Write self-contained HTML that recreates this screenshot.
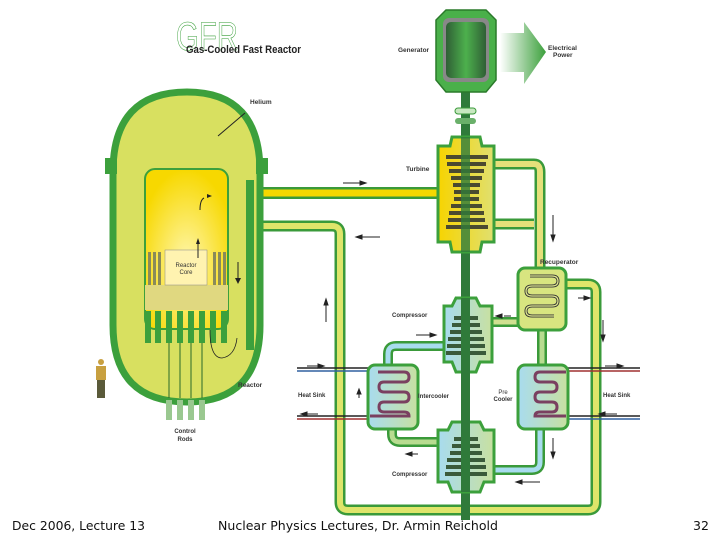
<!DOCTYPE html>
<html><head><meta charset="utf-8"><style>
html,body{margin:0;padding:0;background:#fff;}
svg{display:block;font-family:"Liberation Sans",sans-serif;}
</style></head><body>
<svg width="720" height="540" viewBox="0 0 720 540" xmlns="http://www.w3.org/2000/svg">
<defs>
<radialGradient id="core" cx="0.5" cy="0.6" r="0.6"><stop offset="0" stop-color="#fff7b0"/><stop offset="1" stop-color="#f7d800"/></radialGradient>
<linearGradient id="gen" x1="0" x2="1"><stop offset="0" stop-color="#2f5f35"/><stop offset="0.5" stop-color="#4db04d"/><stop offset="1" stop-color="#2f5f35"/></linearGradient>
<linearGradient id="arr" x1="0" x2="1"><stop offset="0" stop-color="#fff"/><stop offset="1" stop-color="#3ca03c"/></linearGradient>
<linearGradient id="blue" x1="0" x2="1"><stop offset="0" stop-color="#a8dcef"/><stop offset="1" stop-color="#c8e0a0"/></linearGradient>
<linearGradient id="turb" x1="0" x2="1"><stop offset="0" stop-color="#f7d400"/><stop offset="1" stop-color="#e0e070"/></linearGradient>
</defs>
<!-- title -->
<text x="176" y="50" font-size="40" fill="none" stroke="#3ca03c" stroke-width="0.6" textLength="62" lengthAdjust="spacingAndGlyphs">GFR</text>
<text x="186" y="53" font-size="11" font-weight="bold" fill="#222" textLength="115" lengthAdjust="spacingAndGlyphs">Gas-Cooled Fast Reactor</text>

<g fill="none" stroke-linejoin="round">
<path d="M258 226 H332 Q340 226 340 234 V502 Q340 510 348 510 H588 Q596 510 596 502 V292 Q596 284 588 284 H560" stroke="#3a9a3a" stroke-width="11"/>
<path d="M258 226 H332 Q340 226 340 234 V502 Q340 510 348 510 H588 Q596 510 596 502 V292 Q596 284 588 284 H560" stroke="#dfe56a" stroke-width="6"/>
<path d="M490 164 H534 Q540 164 540 172 V272 M490 224 H534" stroke="#3a9a3a" stroke-width="11"/>
<path d="M490 164 H534 Q540 164 540 172 V272 M490 224 H534" stroke="#e6e07a" stroke-width="6"/>
<path d="M520 322 H490" stroke="#3a9a3a" stroke-width="10"/><path d="M520 322 H490" stroke="#d0e090" stroke-width="5"/>
<path d="M542 328 V370" stroke="#3a9a3a" stroke-width="10"/><path d="M542 328 V370" stroke="#b8dc90" stroke-width="5"/>
<path d="M448 346 H396 Q388 346 388 354 V368" stroke="#3a9a3a" stroke-width="10"/><path d="M448 346 H396 Q388 346 388 354 V368" stroke="#a8dcef" stroke-width="5"/>
<path d="M392 428 V434 Q392 442 400 442 H440" stroke="#3a9a3a" stroke-width="10"/><path d="M392 428 V434 Q392 442 400 442 H440" stroke="#b8dc90" stroke-width="5"/>
<path d="M540 428 V462 Q540 470 532 470 H490" stroke="#3a9a3a" stroke-width="10"/><path d="M540 428 V462 Q540 470 532 470 H490" stroke="#a8dcef" stroke-width="5"/>
<path d="M226 193 H440" stroke="#3a9a3a" stroke-width="12"/><path d="M226 193 H440" stroke="#f5d800" stroke-width="7"/>
</g>

<g stroke-width="1.5">
<path d="M297 368 H370 M297 416 H370" stroke="#222"/><path d="M297 371 H370" stroke="#3060a0"/><path d="M297 419 H370" stroke="#a03030"/>
<path d="M565 368 H640 M565 416 H640" stroke="#222"/><path d="M565 371 H640" stroke="#a03030"/><path d="M565 419 H640" stroke="#3060a0"/>
</g>

<path d="M113 172 Q113 92 187 92 Q260 92 260 172 V325 Q260 402 187 402 Q113 402 113 325 Z" fill="#d8e060" stroke="#3ca03c" stroke-width="7"/>
<rect x="105" y="158" width="12" height="16" fill="#3ca03c"/><rect x="256" y="158" width="12" height="16" fill="#3ca03c"/>
<rect x="246" y="180" width="8" height="170" fill="#3ca03c"/>
<rect x="145" y="169" width="83" height="160" rx="10" fill="url(#core)" stroke="#3ca03c" stroke-width="2"/>
<rect x="145" y="285" width="83" height="25" fill="#e0d880"/>
<g fill="#8a8a5a">
<rect x="148" y="252" width="3" height="33"/><rect x="153" y="252" width="3" height="33"/><rect x="158" y="252" width="3" height="33"/>
<rect x="213" y="252" width="3" height="33"/><rect x="218" y="252" width="3" height="33"/><rect x="223" y="252" width="3" height="33"/>
</g>
<rect x="165" y="250" width="42" height="35" fill="#fff3b0" stroke="#888" stroke-width="0.5"/>
<text x="186" y="267" font-size="6" text-anchor="middle" fill="#333">Reactor</text>
<text x="186" y="274" font-size="6" text-anchor="middle" fill="#333">Core</text>
<g fill="#3ca03c">
<rect x="145" y="311" width="6" height="32"/><rect x="155" y="311" width="6" height="32"/><rect x="166" y="311" width="6" height="32"/><rect x="177" y="311" width="6" height="32"/><rect x="188" y="311" width="6" height="32"/><rect x="199" y="311" width="6" height="32"/><rect x="210" y="311" width="6" height="32"/><rect x="221" y="311" width="6" height="32"/>
</g>
<g stroke="#2a6a2a" stroke-width="1"><path d="M169 343V398M180 343V398M191 343V398M202 343V398"/></g>
<g fill="#9ac890"><rect x="166" y="400" width="6" height="20"/><rect x="177" y="400" width="6" height="20"/><rect x="188" y="400" width="6" height="20"/><rect x="199" y="400" width="6" height="20"/></g>
<path d="M210 330 Q210 358 222 358 Q235 356 237 338" fill="none" stroke="#222" stroke-width="0.8"/>
<path d="M238 262 V282" stroke="#222"/><path d="M235 278 L238 284 L241 278Z" fill="#222"/>
<path d="M198 240 V258" stroke="#222"/><path d="M196 244 L198 238 L200 244Z" fill="#222"/>
<path d="M200 210 Q200 200 204 198" fill="none" stroke="#222"/><path d="M207 194 l5 2 -5 2z" fill="#222"/>
<path d="M218 136 L245 113" stroke="#222"/>
<text x="250" y="104" font-size="6.5" font-weight="bold" fill="#333">Helium</text>
<text x="238" y="387" font-size="6.5" font-weight="bold" fill="#333">Reactor</text>
<text x="185" y="433" font-size="6" font-weight="bold" text-anchor="middle" fill="#333">Control</text>
<text x="185" y="441" font-size="6" font-weight="bold" text-anchor="middle" fill="#333">Rods</text>
<circle cx="101" cy="362" r="3" fill="#c8a040"/><rect x="96" y="366" width="10" height="14" fill="#c8a040"/><rect x="97" y="380" width="8" height="18" fill="#5a5a3a"/>

<rect x="461" y="60" width="9" height="460" fill="#2f7a3a"/>
<path d="M446 10 H486 L496 20 V80 L486 92 H446 L436 80 V20 Z" fill="#4ab04a" stroke="#2a7a2a" stroke-width="1.5"/>
<rect x="443" y="18" width="46" height="64" rx="6" fill="#888"/>
<rect x="446" y="22" width="40" height="56" rx="5" fill="url(#gen)"/>
<path d="M500 33 H524 V22 L546 52 L524 84 V72 H500 Z" fill="url(#arr)"/>
<text x="548" y="50" font-size="6.5" font-weight="bold" fill="#333">Electrical</text>
<text x="553" y="57" font-size="6.5" font-weight="bold" fill="#333">Power</text>
<text x="398" y="52" font-size="6.5" font-weight="bold" fill="#333">Generator</text>
<rect x="455" y="108" width="21" height="6" rx="3" fill="#c8e8c0" stroke="#3a9a3a"/><rect x="455" y="118" width="21" height="6" rx="3" fill="#6ab06a"/>

<path d="M452 137 H480 L482 146 H494 V242 H482 L480 252 H452 L450 242 H438 V146 H450 Z" fill="url(#turb)" stroke="#3ca03c" stroke-width="3"/>
<g fill="#4a4a30">
<rect x="446" y="155" width="42" height="4"/><rect x="447" y="162" width="39" height="4"/><rect x="449" y="169" width="35" height="4"/><rect x="451" y="176" width="31" height="4"/><rect x="453" y="183" width="27" height="4"/><rect x="454" y="190" width="25" height="4"/><rect x="454" y="197" width="25" height="4"/><rect x="451" y="204" width="31" height="4"/><rect x="449" y="211" width="35" height="4"/><rect x="448" y="218" width="37" height="4"/><rect x="446" y="225" width="42" height="4"/>
</g>
<rect x="461" y="137" width="9" height="115" fill="#2f7a3a" opacity="0.8"/>
<text x="406" y="171" font-size="6.5" font-weight="bold" fill="#333">Turbine</text>

<rect x="518" y="268" width="48" height="62" rx="7" fill="#d8e580" stroke="#3ca03c" stroke-width="3"/>
<path d="M530 276 H552 Q558 276 558 281 Q558 286 552 286 H532 Q526 286 526 291 Q526 296 532 296 H552 Q558 296 558 301 Q558 306 552 306 H532 Q526 306 526 311 Q526 316 532 316 H554" fill="none" stroke="#333" stroke-width="3"/>
<path d="M530 276 H552 Q558 276 558 281 Q558 286 552 286 H532 Q526 286 526 291 Q526 296 532 296 H552 Q558 296 558 301 Q558 306 552 306 H532 Q526 306 526 311 Q526 316 532 316 H554" fill="none" stroke="#e0e890" stroke-width="1.2"/>
<text x="540" y="264" font-size="6.5" font-weight="bold" fill="#333">Recuperator</text>

<g>
<path d="M456 298 H476 L480 306 H492 V362 H480 L476 372 H456 L452 362 H444 V306 H452 Z" fill="url(#blue)" stroke="#3ca03c" stroke-width="3"/>
<g fill="#3a5a3a"><rect x="454" y="316" width="24" height="4"/><rect x="452" y="323" width="28" height="4"/><rect x="450" y="330" width="32" height="4"/><rect x="448" y="337" width="36" height="4"/><rect x="447" y="344" width="38" height="4"/><rect x="446" y="351" width="40" height="4"/></g>
<path d="M452 422 H480 L484 430 H494 V482 H484 L480 492 H452 L448 482 H438 V430 H448 Z" fill="url(#blue)" stroke="#3ca03c" stroke-width="3"/>
<g fill="#3a5a3a"><rect x="454" y="437" width="24" height="4"/><rect x="452" y="444" width="28" height="4"/><rect x="450" y="451" width="32" height="4"/><rect x="447" y="458" width="38" height="4"/><rect x="446" y="465" width="40" height="4"/><rect x="445" y="472" width="42" height="4"/></g>
<rect x="461" y="298" width="9" height="194" fill="#2f7a3a"/>
</g>
<text x="392" y="317" font-size="6" font-weight="bold" fill="#333">Compressor</text>
<text x="392" y="476" font-size="6" font-weight="bold" fill="#333">Compressor</text>

<rect x="368" y="365" width="50" height="64" rx="7" fill="url(#blue)" stroke="#3ca03c" stroke-width="3"/>
<path d="M378 372 H404 Q409 372 409 377 Q409 382 404 382 H384 Q379 382 379 387 Q379 392 384 392 H404 Q409 392 409 397 Q409 402 404 402 H384 Q379 402 379 407 Q379 412 384 412 H404 Q409 412 409 416 H370" fill="none" stroke="#7a4060" stroke-width="3"/>
<rect x="518" y="365" width="50" height="64" rx="7" fill="url(#blue)" stroke="#3ca03c" stroke-width="3"/>
<path d="M566 372 H540 Q535 372 535 377 Q535 382 540 382 H552 Q557 382 557 387 Q557 392 552 392 H540 Q535 392 535 397 Q535 402 540 402 H552 Q557 402 557 407 Q557 412 552 412 H540 Q535 412 535 416 H566" fill="none" stroke="#7a4060" stroke-width="3"/>
<text x="418" y="398" font-size="6" font-weight="bold" fill="#333">Intercooler</text>
<text x="503" y="394" font-size="6" fill="#333" text-anchor="middle">Pre</text>
<text x="503" y="401" font-size="6" font-weight="bold" fill="#333" text-anchor="middle">Cooler</text>
<text x="298" y="397" font-size="6" font-weight="bold" fill="#333">Heat Sink</text>
<text x="603" y="397" font-size="6" font-weight="bold" fill="#333">Heat Sink</text>

<g fill="#222" stroke="#222" stroke-width="1">
<path d="M343 183 H360"/><path d="M360 181 L366 183 L360 185Z"/>
<path d="M362 237 H380"/><path d="M362 235 L356 237 L362 239Z"/>
<path d="M553 215 V235"/><path d="M551 235 L553 241 L555 235Z"/>
<path d="M326 305 V322"/><path d="M324 305 L326 299 L328 305Z"/>
<path d="M578 298 H590"/><path d="M584 296 L590 298 L584 300Z"/>
<path d="M603 320 V337"/><path d="M601 335 L603 341 L605 335Z"/>
<path d="M504 316 H511"/><path d="M502 314 L496 316 L502 318Z"/>
<path d="M416 335 H430"/><path d="M430 333 L436 335 L430 337Z"/>
<path d="M359 393 V398"/><path d="M357 394 L359 389 L361 394Z"/>
<path d="M412 454 H418"/><path d="M412 452 L406 454 L412 456Z"/>
<path d="M553 438 V453"/><path d="M551 452 L553 458 L555 452Z"/>
<path d="M522 482 H540"/><path d="M522 480 L516 482 L522 484Z"/>
<path d="M307 366 H318"/><path d="M318 364 L324 366 L318 368Z"/>
<path d="M307 414 H318"/><path d="M307 412 L301 414 L307 416Z"/>
<path d="M605 366 H617"/><path d="M617 364 L623 366 L617 368Z"/>
<path d="M605 414 H617"/><path d="M605 412 L599 414 L605 416Z"/>
</g>

<text x="12" y="530" font-size="12.5" font-family="DejaVu Sans,sans-serif" fill="#111" textLength="133" lengthAdjust="spacingAndGlyphs">Dec 2006, Lecture 13</text>
<text x="218" y="530" font-size="12.5" font-family="DejaVu Sans,sans-serif" fill="#111" textLength="280" lengthAdjust="spacingAndGlyphs">Nuclear Physics  Lectures, Dr. Armin Reichold</text>
<text x="693" y="530" font-size="12.5" font-family="DejaVu Sans,sans-serif" fill="#111">32</text>
</svg>
</body></html>
